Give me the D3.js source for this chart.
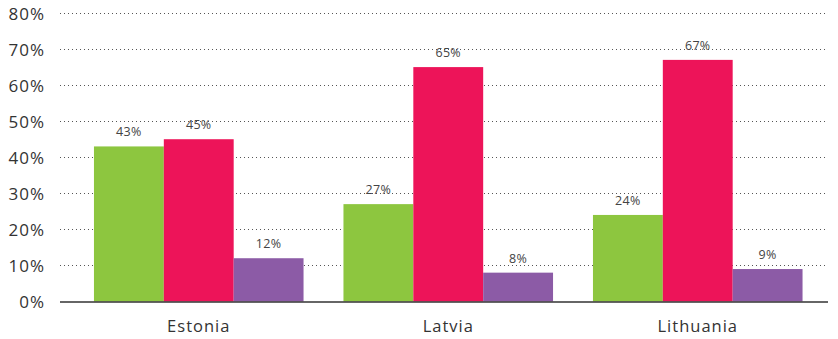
<!DOCTYPE html>
<html><head><meta charset="utf-8">
<script src="https://cdn.jsdelivr.net/npm/d3@7/dist/d3.min.js"></script>
<style>body{margin:0;background:#fff}svg{display:block}text{font-family:"Open Sans",sans-serif}</style>
</head><body><svg id="c" width="838" height="339"></svg>
<script>
const categories = ["Estonia", "Latvia", "Lithuania"];
const seriesNames = ["s1", "s2", "s3"];
const values1 = [0.43, 0.27, 0.24];
const values2 = [0.45, 0.65, 0.67];
const values3 = [0.12, 0.08, 0.09];
const colors = ["#8dc63f", "#ed1459", "#8c5ba6"];
const yTicks = [0, 0.1, 0.2, 0.3, 0.4, 0.5, 0.6, 0.7, 0.8];

const svg = d3.select("#c");
const x = d3.scaleBand().domain(categories).range([74, 822.5]).paddingInner(0.16).paddingOuter(0.08);
const xs = d3.scaleBand().domain(seriesNames).range([0, x.bandwidth()]);
const y = d3.scaleLinear().domain([0, 0.8]).range([301.5, 13]);
const fmt = d3.format(".0%");

// gridlines
svg.append("g").selectAll("line").data(yTicks.filter(d => d > 0)).join("line")
  .attr("x1", 60).attr("x2", 828).attr("y1", d => Math.round(y(d)) + 0.5).attr("y2", d => Math.round(y(d)) + 0.5)
  .attr("stroke", "#555").attr("stroke-width", 1).attr("stroke-dasharray", "1,3");

// y labels
const yAxis = d3.axisLeft(y).tickValues(yTicks).tickFormat(fmt).tickSize(0).tickPadding(0);
const ga = svg.append("g").attr("transform", "translate(45,1)").call(yAxis);
ga.select(".domain").remove();
ga.selectAll("text").attr("font-size", 17).attr("fill", "#333").attr("letter-spacing", 1)
  .attr("font-family", "'Open Sans',sans-serif");

const data = categories.map((c, i) => ({c, v: [values1[i], values2[i], values3[i]]}));
const groups = svg.append("g").selectAll("g").data(data).join("g")
  .attr("transform", d => `translate(${x(d.c)},0)`);
groups.selectAll("rect").data(d => d.v.map((v, j) => ({v, s: seriesNames[j], j}))).join("rect")
  .attr("x", d => xs(d.s)).attr("width", xs.bandwidth())
  .attr("y", d => y(d.v)).attr("height", d => y(0) - y(d.v))
  .attr("fill", d => colors[d.j]);
groups.selectAll("text").data(d => d.v.map((v, j) => ({v, s: seriesNames[j]}))).join("text")
  .attr("x", d => xs(d.s) + xs.bandwidth() / 2).attr("y", d => y(d.v) - 10)
  .attr("text-anchor", "middle").attr("font-size", 12.5).attr("fill", "#444").attr("letter-spacing", 0.3)
  .text(d => fmt(d.v));

// baseline
svg.append("line").attr("x1", 60).attr("x2", 828).attr("y1", 302).attr("y2", 302)
  .attr("stroke", "#333").attr("stroke-width", 1.5);

// x labels
const xAxis = d3.axisBottom(x).tickSize(0).tickPadding(0);
const gx = svg.append("g").attr("transform", "translate(0,320)").call(xAxis);
gx.select(".domain").remove();
gx.selectAll("text").attr("font-size", 16.5).attr("fill", "#333").attr("letter-spacing", 1)
  .attr("font-family", "'Open Sans',sans-serif");
</script></body></html>
